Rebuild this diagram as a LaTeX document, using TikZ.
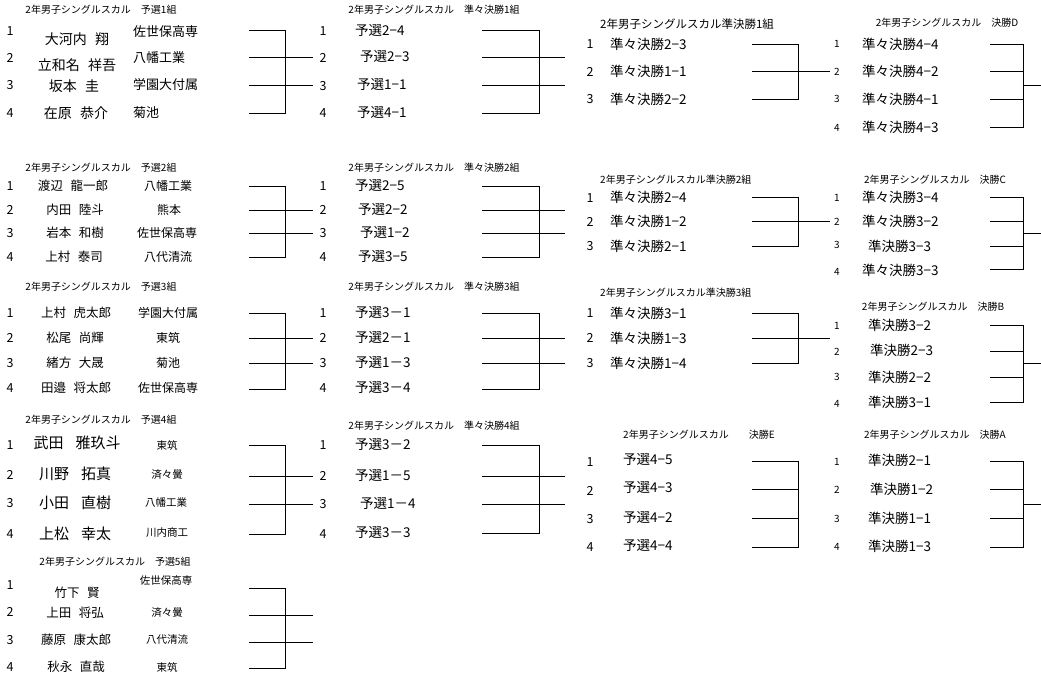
\documentclass[tikz,border=0pt]{standalone}
\usepackage{fontspec}
\setmainfont{Noto Sans CJK JP}
\tikzset{
    % Text styles
    heading/.style={font=\fontsize{10}{10}\selectfont, inner sep=0pt},
    rownum/.style={font=\fontsize{12.5}{12.5}\selectfont, inner sep=0pt},
    smallnum/.style={font=\fontsize{10}{10}\selectfont, inner sep=0pt},
    player/.style={font=\fontsize{12.5}{12.5}\selectfont, inner sep=0pt},
    bigplayer/.style={font=\fontsize{14}{14}\selectfont, inner sep=0pt},
    hugeplayer/.style={font=\fontsize{15}{15}\selectfont, inner sep=0pt},
    school/.style={font=\fontsize{12}{12}\selectfont, inner sep=0pt},
    smallschool/.style={font=\fontsize{10.5}{10.5}\selectfont, inner sep=0pt},
    entrytext/.style={font=\fontsize{13.5}{13.5}\selectfont, inner sep=0pt, anchor=west},
    % Bracket lines
    bracketline/.style={draw=black, line width=1pt}
}
\begin{document}
\begin{tikzpicture}[x=1pt, y=-1pt]
    \useasboundingbox (0,0) rectangle (1041,681);

    % Heat 1
    \node[heading] (y1t) at (101,10) {2年男子シングルスカル　予選1組};
    \node[rownum] (y1n1) at (10,31) {1};
    \node[rownum] (y1n2) at (10,58) {2};
    \node[rownum] (y1n3) at (10,85) {3};
    \node[rownum] (y1n4) at (10,113) {4};
    \node[bigplayer] (y1p1) at (77,39) {大河内\hspace{.6em}翔};
    \node[bigplayer] (y1p2) at (77,65) {立和名\hspace{.6em}祥吾};
    \node[bigplayer] (y1p3) at (74,86) {坂本\hspace{.6em}圭};
    \node[bigplayer] (y1p4) at (76,113) {在原\hspace{.6em}恭介};
    \node[school, font=\fontsize{13}{13}\selectfont, anchor=west] (y1s1) at (133,32) {佐世保高専};
    \node[school, font=\fontsize{13}{13}\selectfont, anchor=west] (y1s2) at (133,58) {八幡工業};
    \node[school, font=\fontsize{13}{13}\selectfont, anchor=west] (y1s3) at (133,85) {学園大付属};
    \node[school, font=\fontsize{13}{13}\selectfont, anchor=west] (y1s4) at (133,113) {菊池};
    \coordinate (y1a1) at (249,30);
    \coordinate (y1a2) at (249,57);
    \coordinate (y1a3) at (249,85);
    \coordinate (y1a4) at (249,113);
    \draw[bracketline] (y1a1) -- ++(36,0) |- (y1a4);
    \draw[bracketline] (y1a2) -- ++(64,0);
    \draw[bracketline] (y1a3) -- ++(64,0);

    % Heat 2
    \node[heading] (y2t) at (101,168) {2年男子シングルスカル　予選2組};
    \node[rownum] (y2n1) at (10,186) {1};
    \node[rownum] (y2n2) at (10,210) {2};
    \node[rownum] (y2n3) at (10,233) {3};
    \node[rownum] (y2n4) at (10,257) {4};
    \node[player] (y2p1) at (73,186) {渡辺\hspace{.6em}龍一郎};
    \node[player] (y2p2) at (75,210) {内田\hspace{.6em}陸斗};
    \node[player] (y2p3) at (75,233) {岩本\hspace{.6em}和樹};
    \node[player] (y2p4) at (74,257) {上村\hspace{.6em}泰司};
    \node[school] (y2s1) at (168,186) {八幡工業};
    \node[school] (y2s2) at (169,210) {熊本};
    \node[school] (y2s3) at (167,233) {佐世保高専};
    \node[school] (y2s4) at (168,257) {八代清流};
    \coordinate (y2a1) at (249,186);
    \coordinate (y2a2) at (249,210);
    \coordinate (y2a3) at (249,233);
    \coordinate (y2a4) at (249,257);
    \draw[bracketline] (y2a1) -- ++(36,0) |- (y2a4);
    \draw[bracketline] (y2a2) -- ++(64,0);
    \draw[bracketline] (y2a3) -- ++(64,0);

    % Heat 3
    \node[heading] (y3t) at (101,287) {2年男子シングルスカル　予選3組};
    \node[rownum] (y3n1) at (10,313) {1};
    \node[rownum] (y3n2) at (10,338) {2};
    \node[rownum] (y3n3) at (10,363) {3};
    \node[rownum] (y3n4) at (10,388) {4};
    \node[player] (y3p1) at (76,313) {上村\hspace{.6em}虎太郎};
    \node[player] (y3p2) at (75,338) {松尾\hspace{.6em}尚輝};
    \node[player] (y3p3) at (75,363) {緒方\hspace{.6em}大晟};
    \node[player] (y3p4) at (76,388) {田邉\hspace{.6em}将太郎};
    \node[school] (y3s1) at (168,313) {学園大付属};
    \node[school] (y3s2) at (168,338) {東筑};
    \node[school] (y3s3) at (168,363) {菊池};
    \node[school] (y3s4) at (168,388) {佐世保高専};
    \coordinate (y3a1) at (249,313);
    \coordinate (y3a2) at (249,338);
    \coordinate (y3a3) at (249,363);
    \coordinate (y3a4) at (249,389);
    \draw[bracketline] (y3a1) -- ++(36,0) |- (y3a4);
    \draw[bracketline] (y3a2) -- ++(64,0);
    \draw[bracketline] (y3a3) -- ++(64,0);

    % Heat 4
    \node[heading] (y4t) at (101,420) {2年男子シングルスカル　予選4組};
    \node[rownum] (y4n1) at (10,445) {1};
    \node[rownum] (y4n2) at (10,475) {2};
    \node[rownum] (y4n3) at (10,503) {3};
    \node[rownum] (y4n4) at (10,534) {4};
    \node[hugeplayer] (y4p1) at (77,443) {武田\hspace{.8em}雅玖斗};
    \node[hugeplayer] (y4p2) at (75,474) {川野\hspace{.8em}拓真};
    \node[hugeplayer] (y4p3) at (75,503) {小田\hspace{.8em}直樹};
    \node[hugeplayer] (y4p4) at (75,534) {上松\hspace{.8em}幸太};
    \node[smallschool] (y4s1) at (167,445) {東筑};
    \node[smallschool] (y4s2) at (167,475) {済々黌};
    \node[smallschool] (y4s3) at (166,503) {八幡工業};
    \node[smallschool] (y4s4) at (167,533) {川内商工};
    \coordinate (y4a1) at (249,445);
    \coordinate (y4a2) at (249,476);
    \coordinate (y4a3) at (249,504);
    \coordinate (y4a4) at (249,534);
    \draw[bracketline] (y4a1) -- ++(36,0) |- (y4a4);
    \draw[bracketline] (y4a2) -- ++(64,0);
    \draw[bracketline] (y4a3) -- ++(64,0);

    % Heat 5
    \node[heading] (y5t) at (115,562) {2年男子シングルスカル　予選5組};
    \node[rownum] (y5n1) at (10,585) {1};
    \node[rownum] (y5n2) at (10,612) {2};
    \node[rownum] (y5n3) at (10,640) {3};
    \node[rownum] (y5n4) at (10,667) {4};
    \node[player] (y5p1) at (77,593) {竹下\hspace{.6em}賢};
    \node[player] (y5p2) at (75,613) {上田\hspace{.6em}将弘};
    \node[player] (y5p3) at (76,640) {藤原\hspace{.6em}康太郎};
    \node[player] (y5p4) at (76,667) {秋永\hspace{.6em}直哉};
    \node[smallschool] (y5s1) at (166,581) {佐世保高専};
    \node[smallschool] (y5s2) at (167,613) {済々黌};
    \node[smallschool] (y5s3) at (167,640) {八代清流};
    \node[smallschool] (y5s4) at (167,667) {東筑};
    \coordinate (y5a1) at (249,588);
    \coordinate (y5a2) at (249,615);
    \coordinate (y5a3) at (249,642);
    \coordinate (y5a4) at (249,668);
    \draw[bracketline] (y5a1) -- ++(36,0) |- (y5a4);
    \draw[bracketline] (y5a2) -- ++(64,0);
    \draw[bracketline] (y5a3) -- ++(64,0);

    % Quarterfinal 1
    \node[heading] (q1t) at (434,10) {2年男子シングルスカル　準々決勝1組};
    \node[rownum] (q1n1) at (323,31) {1};
    \node[rownum] (q1n2) at (323,58) {2};
    \node[rownum] (q1n3) at (323,86) {3};
    \node[rownum] (q1n4) at (323,113) {4};
    \node[entrytext] (q1e1) at (355,31) {予選2−4};
    \node[entrytext] (q1e2) at (360,57) {予選2−3};
    \node[entrytext] (q1e3) at (357,85) {予選1−1};
    \node[entrytext] (q1e4) at (357,113) {予選4−1};
    \coordinate (q1a1) at (482,30);
    \coordinate (q1a2) at (482,57);
    \coordinate (q1a3) at (482,85);
    \coordinate (q1a4) at (482,113);
    \draw[bracketline] (q1a1) -- ++(57,0) |- (q1a4);
    \draw[bracketline] (q1a2) -- ++(83,0);
    \draw[bracketline] (q1a3) -- ++(83,0);

    % Quarterfinal 2
    \node[heading] (q2t) at (434,168) {2年男子シングルスカル　準々決勝2組};
    \node[rownum] (q2n1) at (323,186) {1};
    \node[rownum] (q2n2) at (323,210) {2};
    \node[rownum] (q2n3) at (323,233) {3};
    \node[rownum] (q2n4) at (323,257) {4};
    \node[entrytext] (q2e1) at (355,186) {予選2−5};
    \node[entrytext] (q2e2) at (358,210) {予選2−2};
    \node[entrytext] (q2e3) at (360,233) {予選1−2};
    \node[entrytext] (q2e4) at (358,257) {予選3−5};
    \coordinate (q2a1) at (482,186);
    \coordinate (q2a2) at (482,210);
    \coordinate (q2a3) at (482,233);
    \coordinate (q2a4) at (482,257);
    \draw[bracketline] (q2a1) -- ++(57,0) |- (q2a4);
    \draw[bracketline] (q2a2) -- ++(83,0);
    \draw[bracketline] (q2a3) -- ++(83,0);

    % Quarterfinal 3
    \node[heading] (q3t) at (434,287) {2年男子シングルスカル　準々決勝3組};
    \node[rownum] (q3n1) at (323,313) {1};
    \node[rownum] (q3n2) at (323,338) {2};
    \node[rownum] (q3n3) at (323,363) {3};
    \node[rownum] (q3n4) at (323,388) {4};
    \node[entrytext] (q3e1) at (355,313) {予選3－1};
    \node[entrytext] (q3e2) at (355,338) {予選2－1};
    \node[entrytext] (q3e3) at (355,363) {予選1－3};
    \node[entrytext] (q3e4) at (355,388) {予選3－4};
    \coordinate (q3a1) at (482,313);
    \coordinate (q3a2) at (482,338);
    \coordinate (q3a3) at (482,363);
    \coordinate (q3a4) at (482,389);
    \draw[bracketline] (q3a1) -- ++(57,0) |- (q3a4);
    \draw[bracketline] (q3a2) -- ++(83,0);
    \draw[bracketline] (q3a3) -- ++(83,0);

    % Quarterfinal 4
    \node[heading] (q4t) at (434,426) {2年男子シングルスカル　準々決勝4組};
    \node[rownum] (q4n1) at (323,445) {1};
    \node[rownum] (q4n2) at (323,476) {2};
    \node[rownum] (q4n3) at (323,504) {3};
    \node[rownum] (q4n4) at (323,534) {4};
    \node[entrytext] (q4e1) at (355,445) {予選3－2};
    \node[entrytext] (q4e2) at (355,476) {予選1－5};
    \node[entrytext] (q4e3) at (360,504) {予選1－4};
    \node[entrytext] (q4e4) at (355,533) {予選3－3};
    \coordinate (q4a1) at (482,445);
    \coordinate (q4a2) at (482,476);
    \coordinate (q4a3) at (482,504);
    \coordinate (q4a4) at (482,533);
    \draw[bracketline] (q4a1) -- ++(57,0) |- (q4a4);
    \draw[bracketline] (q4a2) -- ++(83,0);
    \draw[bracketline] (q4a3) -- ++(83,0);

    % Semifinal 1
    \node[heading, font=\fontsize{11.5}{11.5}\selectfont, anchor=west] (s1t) at (600,24) {2年男子シングルスカル準決勝1組};
    \node[rownum] (s1n1) at (590,44) {1};
    \node[rownum] (s1n2) at (590,72) {2};
    \node[rownum] (s1n3) at (590,99) {3};
    \node[entrytext] (s1e1) at (610,44) {準々決勝2−3};
    \node[entrytext] (s1e2) at (610,71) {準々決勝1−1};
    \node[entrytext] (s1e3) at (610,99) {準々決勝2−2};
    \coordinate (s1a1) at (752,44);
    \coordinate (s1a2) at (752,71);
    \coordinate (s1a3) at (752,99);
    \draw[bracketline] (s1a1) -- ++(46,0) |- (s1a3);
    \draw[bracketline] (s1a2) -- ++(78,0);

    % Semifinal 2
    \node[heading, anchor=west] (s2t) at (600,180) {2年男子シングルスカル準決勝2組};
    \node[rownum] (s2n1) at (590,198) {1};
    \node[rownum] (s2n2) at (590,222) {2};
    \node[rownum] (s2n3) at (590,246) {3};
    \node[entrytext] (s2e1) at (610,197) {準々決勝2−4};
    \node[entrytext] (s2e2) at (610,221) {準々決勝1−2};
    \node[entrytext] (s2e3) at (610,246) {準々決勝2−1};
    \coordinate (s2a1) at (752,197);
    \coordinate (s2a2) at (752,221);
    \coordinate (s2a3) at (752,246);
    \draw[bracketline] (s2a1) -- ++(46,0) |- (s2a3);
    \draw[bracketline] (s2a2) -- ++(78,0);

    % Semifinal 3
    \node[heading, anchor=west] (s3t) at (600,293) {2年男子シングルスカル準決勝3組};
    \node[rownum] (s3n1) at (590,313) {1};
    \node[rownum] (s3n2) at (590,338) {2};
    \node[rownum] (s3n3) at (590,363) {3};
    \node[entrytext] (s3e1) at (610,313) {準々決勝3−1};
    \node[entrytext] (s3e2) at (610,338) {準々決勝1−3};
    \node[entrytext] (s3e3) at (610,363) {準々決勝1−4};
    \coordinate (s3a1) at (752,313);
    \coordinate (s3a2) at (752,338);
    \coordinate (s3a3) at (752,363);
    \draw[bracketline] (s3a1) -- ++(46,0) |- (s3a3);
    \draw[bracketline] (s3a2) -- ++(78,0);

    % Final E
    \node[heading, anchor=west] (fEt) at (623,435) {2年男子シングルスカル　　決勝E};
    \node[rownum] (fEn1) at (590,462) {1};
    \node[rownum] (fEn2) at (590,491) {2};
    \node[rownum] (fEn3) at (590,519) {3};
    \node[rownum] (fEn4) at (590,547) {4};
    \node[entrytext] (fEe1) at (623,460) {予選4−5};
    \node[entrytext] (fEe2) at (623,488) {予選4−3};
    \node[entrytext] (fEe3) at (623,518) {予選4−2};
    \node[entrytext] (fEe4) at (623,546) {予選4−4};
    \coordinate (fEa1) at (752,461);
    \coordinate (fEa2) at (752,489);
    \coordinate (fEa3) at (752,518);
    \coordinate (fEa4) at (752,547);
    \draw[bracketline] (fEa1) -- ++(46,0) |- (fEa4);
    \draw[bracketline] (fEa2) -- ++(46,0);
    \draw[bracketline] (fEa3) -- ++(46,0);

    % Final D
    \node[heading] (fDt) at (947,23) {2年男子シングルスカル　決勝D};
    \node[smallnum] (fDn1) at (837,44) {1};
    \node[smallnum] (fDn2) at (837,72) {2};
    \node[smallnum] (fDn3) at (837,99) {3};
    \node[smallnum] (fDn4) at (837,128) {4};
    \node[entrytext] (fDe1) at (862,44) {準々決勝4−4};
    \node[entrytext] (fDe2) at (862,71) {準々決勝4−2};
    \node[entrytext] (fDe3) at (862,99) {準々決勝4−1};
    \node[entrytext] (fDe4) at (862,127) {準々決勝4−3};
    \coordinate (fDa1) at (990,44);
    \coordinate (fDa2) at (990,71);
    \coordinate (fDa3) at (990,99);
    \coordinate (fDa4) at (990,127);
    \coordinate (fDo) at (1023,85);
    \draw[bracketline] (fDa1) -- ++(33,0) |- (fDa4);
    \draw[bracketline] (fDa2) -- ++(33,0);
    \draw[bracketline] (fDa3) -- ++(33,0);
    \draw[bracketline] (fDo) -- ++(18,0);

    % Final C
    \node[heading] (fCt) at (935,180) {2年男子シングルスカル　決勝C};
    \node[smallnum] (fCn1) at (837,198) {1};
    \node[smallnum] (fCn2) at (837,222) {2};
    \node[smallnum] (fCn3) at (837,245) {3};
    \node[smallnum] (fCn4) at (837,272) {4};
    \node[entrytext] (fCe1) at (862,197) {準々決勝3−4};
    \node[entrytext] (fCe2) at (862,221) {準々決勝3−2};
    \node[entrytext] (fCe3) at (868,246) {準決勝3−3};
    \node[entrytext] (fCe4) at (862,270) {準々決勝3−3};
    \coordinate (fCa1) at (990,197);
    \coordinate (fCa2) at (990,221);
    \coordinate (fCa3) at (990,246);
    \coordinate (fCa4) at (990,269);
    \coordinate (fCo) at (1023,233);
    \draw[bracketline] (fCa1) -- ++(33,0) |- (fCa4);
    \draw[bracketline] (fCa2) -- ++(33,0);
    \draw[bracketline] (fCa3) -- ++(33,0);
    \draw[bracketline] (fCo) -- ++(18,0);

    % Final B
    \node[heading] (fBt) at (933,307) {2年男子シングルスカル　決勝B};
    \node[smallnum] (fBn1) at (837,326) {1};
    \node[smallnum] (fBn2) at (837,352) {2};
    \node[smallnum] (fBn3) at (837,377) {3};
    \node[smallnum] (fBn4) at (837,404) {4};
    \node[entrytext] (fBe1) at (868,325) {準決勝3−2};
    \node[entrytext] (fBe2) at (870,350) {準決勝2−3};
    \node[entrytext] (fBe3) at (868,377) {準決勝2−2};
    \node[entrytext] (fBe4) at (868,402) {準決勝3−1};
    \coordinate (fBa1) at (990,325);
    \coordinate (fBa2) at (990,351);
    \coordinate (fBa3) at (990,377);
    \coordinate (fBa4) at (990,402);
    \coordinate (fBo) at (1023,363);
    \draw[bracketline] (fBa1) -- ++(33,0) |- (fBa4);
    \draw[bracketline] (fBa2) -- ++(33,0);
    \draw[bracketline] (fBa3) -- ++(33,0);
    \draw[bracketline] (fBo) -- ++(18,0);

    % Final A
    \node[heading] (fAt) at (935,435) {2年男子シングルスカル　決勝A};
    \node[smallnum] (fAn1) at (837,462) {1};
    \node[smallnum] (fAn2) at (837,490) {2};
    \node[smallnum] (fAn3) at (837,519) {3};
    \node[smallnum] (fAn4) at (837,547) {4};
    \node[entrytext] (fAe1) at (868,460) {準決勝2−1};
    \node[entrytext] (fAe2) at (870,489) {準決勝1−2};
    \node[entrytext] (fAe3) at (868,518) {準決勝1−1};
    \node[entrytext] (fAe4) at (868,546) {準決勝1−3};
    \coordinate (fAa1) at (990,461);
    \coordinate (fAa2) at (990,489);
    \coordinate (fAa3) at (990,518);
    \coordinate (fAa4) at (990,547);
    \coordinate (fAo) at (1023,504);
    \draw[bracketline] (fAa1) -- ++(33,0) |- (fAa4);
    \draw[bracketline] (fAa2) -- ++(33,0);
    \draw[bracketline] (fAa3) -- ++(33,0);
    \draw[bracketline] (fAo) -- ++(18,0);
\end{tikzpicture}
\end{document}
